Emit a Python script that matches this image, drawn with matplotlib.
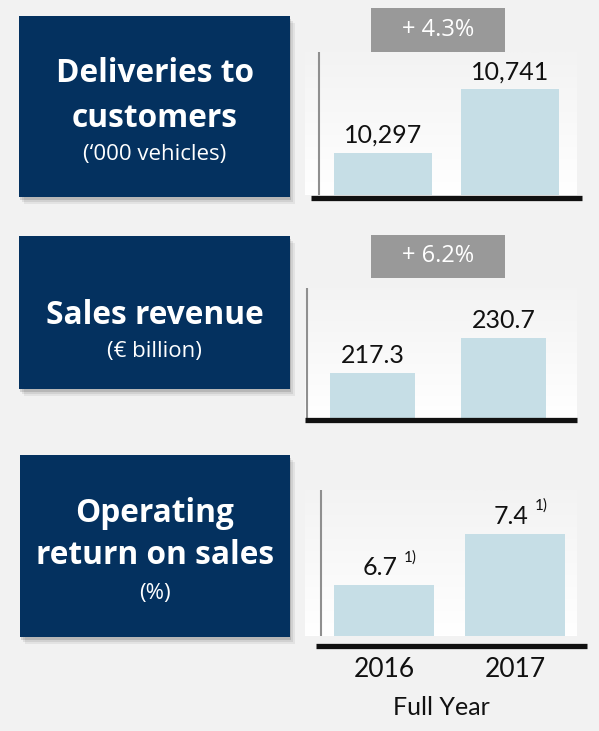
import numpy as np
import matplotlib.pyplot as plt
from matplotlib.patches import Rectangle
from matplotlib.lines import Line2D
from matplotlib.colors import LinearSegmentedColormap

W, H = 599, 731

years = ['2016', '2017']
deliveries = [10297, 10741]
revenue = [217.3, 230.7]
ros = [6.7, 7.4]
delivery_labels = ['10,297', '10,741']
revenue_labels = ['217.3', '230.7']
ros_labels = ['6.7', '7.4']
ros_notes = ['1)', '1)']

title_lines = [['Deliveries to', 'customers'], ['Sales revenue'], ['Operating', 'return on sales']]
subtitles = ['(\u2018000 vehicles)', '(\u20ac billion)', '(%)']
changes = ['+ 4.3%', '+ 6.2%', None]

series = [deliveries, revenue, ros]
series_labels = [delivery_labels, revenue_labels, ros_labels]
ylims = [(10000, 11000), (200, 250), (6, 8)]

# pixel layout (top-left origin)
boxes = [(19, 16, 290, 197), (19, 236, 290, 389), (20, 455, 290, 637)]
title_base = [[82, 127], [324], [522, 564]]
sub_base = [160, 357, 599]
axes_px = [(305, 52, 577, 195), (305, 288, 577, 418), (305, 490, 577, 636)]
xlims = [(-0.614, 1.528), (-0.515, 1.561), (-0.605, 1.473)]
widths = [0.77, 0.65, 0.76]
vlines = [-0.504, -0.5, -0.479]
baselines = [(311, 582, 198), (305, 577, 420.5), (316, 587, 646)]
chips = [(371, 8, 505, 52), (371, 235, 505, 278), None]

NAVY = '#04315f'
BAR = '#c6dee6'
BG = '#f2f2f2'
TITLE_FONT = ['Open Sans', 'DejaVu Sans']
NUM_FONT = ['Lato', 'DejaVu Sans']


def fx(x):
    return x / W


def fy(y):
    return 1 - y / H


fig = plt.figure(figsize=(W / 100, H / 100), dpi=100)
fig.patch.set_facecolor(BG)

grad = LinearSegmentedColormap.from_list('g', ['#f3f3f3', '#ffffff'])

for i in range(3):
    # blue title box with soft shadow
    x0, y0, x1, y1 = boxes[i]
    for k, a in zip([7, 5, 3], [0.06, 0.08, 0.12]):
        fig.add_artist(Rectangle((fx(x0 + k - 2), fy(y1 + k)), fx(x1 - x0), (y1 - y0) / H,
                                 transform=fig.transFigure, facecolor='black', alpha=a,
                                 edgecolor='none', zorder=1))
    fig.add_artist(Rectangle((fx(x0), fy(y1)), fx(x1 - x0), (y1 - y0) / H,
                             transform=fig.transFigure, facecolor=NAVY, edgecolor='none', zorder=2))
    cx = fx((x0 + x1) / 2)
    for line, yb in zip(title_lines[i], title_base[i]):
        fig.text(cx, fy(yb), line, ha='center', va='baseline', color='white',
                 fontsize=22.8, fontweight='bold', family=TITLE_FONT, zorder=3)
    fig.text(cx, fy(sub_base[i]), subtitles[i], ha='center', va='baseline', color='white',
             fontsize=16, family=TITLE_FONT, zorder=3)

    # bar chart
    ax0, ay0, ax1, ay1 = axes_px[i]
    ax = fig.add_axes([fx(ax0), fy(ay1), fx(ax1 - ax0), (ay1 - ay0) / H])
    ax.imshow(np.linspace(0, 1, 100)[:, None], cmap=grad, extent=[0, 1, 0, 1],
              transform=ax.transAxes, aspect='auto', zorder=0)
    ax.bar(range(len(years)), series[i], width=widths[i], bottom=0, color=BAR, zorder=2)
    ax.set_xlim(*xlims[i])
    ax.set_ylim(*ylims[i])
    ax.axvline(vlines[i], color='#8f8f8f', lw=1.5, zorder=3)
    for s in ax.spines.values():
        s.set_visible(False)
    ax.set_yticks([])
    for j, (v, lab) in enumerate(zip(series[i], series_labels[i])):
        dx = -3 if i == 2 else 0
        ax.annotate(lab, (j, v), xytext=(dx, 7), textcoords='offset points',
                    ha='center', va='baseline', fontsize=18, family=NUM_FONT, color='#111111')
        if i == 2:
            ax.annotate(ros_notes[j], (j, v), xytext=(14, 17), textcoords='offset points',
                        ha='left', va='baseline', fontsize=11, family=NUM_FONT, color='#111111')
    if i == 2:
        ax.set_xticks(range(len(years)), years)
        ax.tick_params(axis='x', length=0, pad=15, labelsize=19)
        for t in ax.get_xticklabels():
            t.set_family(NUM_FONT)
            t.set_color('#111111')
        ax.set_xlabel('Full Year', fontsize=18, family=NUM_FONT, color='#111111', labelpad=10)
    else:
        ax.set_xticks([])

    # black baseline
    bx0, bx1, by = baselines[i]
    fig.add_artist(Line2D([fx(bx0), fx(bx1)], [fy(by), fy(by)], transform=fig.transFigure,
                          color='#111111', lw=3.8, solid_capstyle='butt', zorder=5))

    # grey change chip
    if chips[i] is not None:
        c0, c1, c2, c3 = chips[i]
        fig.add_artist(Rectangle((fx(c0), fy(c3)), fx(c2 - c0), (c3 - c1) / H,
                                 transform=fig.transFigure, facecolor='#999999',
                                 edgecolor='none', zorder=6))
        fig.text(fx((c0 + c2) / 2), fy((c1 + c3) / 2), changes[i], ha='center', va='center',
                 color='white', fontsize=17, family=TITLE_FONT, zorder=7)

fig.savefig('out.png', dpi=100, facecolor=BG)
